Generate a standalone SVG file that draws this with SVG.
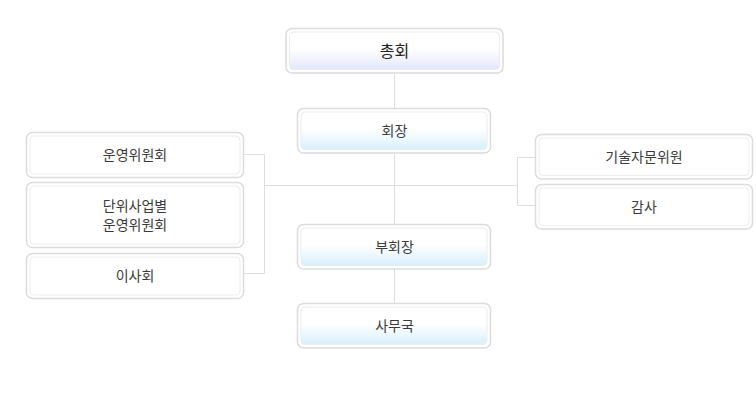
<svg xmlns="http://www.w3.org/2000/svg" width="756" height="401" viewBox="0 0 756 401">
<defs>
<linearGradient id="gLav" x1="0" y1="0" x2="0" y2="1">
<stop offset="0" stop-color="#ffffff"/><stop offset="0.45" stop-color="#ffffff"/><stop offset="1" stop-color="#e3e7fb"/>
</linearGradient>
<linearGradient id="gBlue" x1="0" y1="0" x2="0" y2="1">
<stop offset="0" stop-color="#ffffff"/><stop offset="0.45" stop-color="#ffffff"/><stop offset="1" stop-color="#d7f0fc"/>
</linearGradient>
</defs>
<style>
.o{fill:#fff;stroke:#dcdcdc;stroke-width:1.5}
.i{stroke:#ececec;stroke-width:1}
.w{fill:#fff}
.l{fill:#f2f4fd}
.b{fill:#f0f9fe}
.c{fill:none;stroke:#dddddd;stroke-width:1}
text{font-family:"Noto Sans CJK KR","Noto Sans",sans-serif;font-size:14px;fill:#3a3a3a;text-anchor:middle}
.big{font-size:16px;fill:#222}
</style>
<rect width="756" height="401" fill="#fff"/>
<g id="connectors">
<line class="c" x1="394.5" y1="73" x2="394.5" y2="303"/>
<polyline class="c" points="244,154.5 264.5,154.5 264.5,273.5 244,273.5"/>
<line class="c" x1="264.5" y1="185.5" x2="517.5" y2="185.5"/>
<polyline class="c" points="535,157.5 517.5,157.5 517.5,205.5 535,205.5"/>
</g>
<g id="n-chonghoe">
<rect class="o" x="286" y="28.5" width="217" height="44.5" rx="6"/>
<rect class="i" fill="url(#gLav)" x="289.5" y="32" width="210" height="37.5" rx="4"/>
<text class="big" x="394.5" y="57">총회</text>
</g>
<g id="n-hoejang">
<rect class="o" x="297.5" y="108.5" width="193" height="44.5" rx="6"/>
<rect class="i" fill="url(#gBlue)" x="301" y="112" width="186" height="37.5" rx="4"/>
<text x="394.5" y="136">회장</text>
</g>
<g id="n-buhoejang">
<rect class="o" x="297.5" y="224.5" width="193" height="44.5" rx="6"/>
<rect class="i" fill="url(#gBlue)" x="301" y="228" width="186" height="37.5" rx="4"/>
<text x="394.5" y="252">부회장</text>
</g>
<g id="n-samuguk">
<rect class="o" x="297.5" y="303.5" width="193" height="44.5" rx="6"/>
<rect class="i" fill="url(#gBlue)" x="301" y="307" width="186" height="37.5" rx="4"/>
<text x="394.5" y="331">사무국</text>
</g>
<g id="n-unyeong">
<rect class="o" x="26.5" y="132.5" width="217" height="45" rx="6"/>
<rect class="i w" x="30" y="136" width="210" height="38" rx="4"/>
<text x="135" y="160">운영위원회</text>
</g>
<g id="n-danwi">
<rect class="o" x="26.5" y="182.5" width="217" height="65" rx="6"/>
<rect class="i w" x="30" y="186" width="210" height="58" rx="4"/>
<text x="135" y="211">단위사업별</text>
<text x="135" y="230">운영위원회</text>
</g>
<g id="n-isahoe">
<rect class="o" x="26.5" y="253.5" width="217" height="45" rx="6"/>
<rect class="i w" x="30" y="257" width="210" height="38" rx="4"/>
<text x="135" y="281">이사회</text>
</g>
<g id="n-gisul">
<rect class="o" x="535.5" y="134.5" width="217" height="44.5" rx="6"/>
<rect class="i w" x="539" y="138" width="210" height="37.5" rx="4"/>
<text x="644" y="162">기술자문위원</text>
</g>
<g id="n-gamsa">
<rect class="o" x="535.5" y="184.5" width="217" height="44.5" rx="6"/>
<rect class="i w" x="539" y="188" width="210" height="37.5" rx="4"/>
<text x="644" y="212">감사</text>
</g>
</svg>
